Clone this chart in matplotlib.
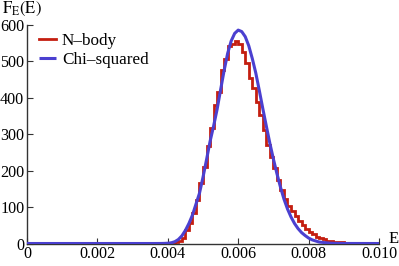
import matplotlib
matplotlib.use("Agg")
import matplotlib.pyplot as plt
import numpy as np

# Histogram (N-body), bin width 0.0001, left edge of first bin
bin_start = 0.0040
bin_width = 0.0001
nbody_density = [0.5, 1, 3, 6, 15, 37, 57, 85, 119, 165, 209, 268,
                 316, 380, 417, 476, 508, 542, 547, 557, 548, 527, 495,
                 454, 426, 389, 353, 312, 270, 238, 206, 174, 147, 122,
                 104, 90, 75, 62, 50, 40, 32, 25, 19, 15, 11, 8, 6, 5,
                 4, 3, 2, 2, 1, 1, 1, 0.5, 0.3, 0.2, 0.1, 0.1]

# Chi-squared curve
chi_E = [0.0, 0.0036, 0.0037, 0.0038, 0.0039, 0.0040, 0.0041, 0.0042, 0.0043,
         0.0044, 0.0045, 0.0046, 0.0047, 0.0048, 0.0049, 0.0050, 0.0051,
         0.0052, 0.0053, 0.0054, 0.0055, 0.0056, 0.0057, 0.0058, 0.0059,
         0.0060, 0.0061, 0.0062, 0.0063, 0.0064, 0.0065, 0.0066, 0.0067,
         0.0068, 0.0069, 0.0070, 0.0071, 0.0072, 0.0073, 0.0074, 0.0075,
         0.0076, 0.0077, 0.0078, 0.0079, 0.0080, 0.0081, 0.0082, 0.0083,
         0.0084, 0.0085, 0.0086, 0.0087, 0.0088, 0.0090, 0.0100]
chi_F = [0.0, 0.0, 0.05, 0.1, 0.3, 0.8, 2, 5, 11,
         21, 36, 55, 78, 108, 138, 182, 230,
         280, 322, 368, 422, 475, 522, 556, 577,
         586, 582, 568, 543, 508, 468, 420, 370,
         322, 275, 232, 192, 155, 122, 95, 73,
         55, 41, 30, 22, 15, 10, 7, 4,
         3, 2, 1, 0.6, 0.3, 0.1, 0.0]

x_ticks = [0, 0.002, 0.004, 0.006, 0.008, 0.010]
x_ticklabels = ["0", "0.002", "0.004", "0.006", "0.008", "0.010"]
y_ticks = [0, 100, 200, 300, 400, 500, 600]

plt.rcParams['font.family'] = ['Liberation Serif', 'DejaVu Serif']
plt.rcParams['mathtext.fontset'] = 'stix'

fig = plt.figure(figsize=(3.99, 2.66), dpi=100)
ax = fig.add_axes([27/399, 1-243.5/266, (379-27)/399, (243.5-25)/266])

edges = bin_start + bin_width*np.arange(len(nbody_density)+1)
red = '#c41e10'
blue = '#4b40d0'
ax.stairs(nbody_density, edges, color=red, lw=2.0, zorder=2, label='N–body')
ax.plot(chi_E, chi_F, color=blue, lw=2.2, zorder=3, label='Chi–squared',
        solid_capstyle='butt')

ax.set_xlim(0, 0.010)
ax.set_ylim(0, 600)
for s in ['top', 'right']:
    ax.spines[s].set_visible(False)
for s in ['left', 'bottom']:
    ax.spines[s].set_color('#333333')
    ax.spines[s].set_linewidth(1.0)
ax.set_xticks(x_ticks)
ax.set_xticklabels(x_ticklabels)
ax.set_yticks(y_ticks)
ax.tick_params(direction='in', length=4, width=0.8, color='#333333',
               labelsize=11.6, pad=2)
ax.patch.set_visible(False)

fig.text(2/399, 1-9/266, r'$\mathrm{F_E(E)}$', fontsize=12, va='center', ha='left')
fig.text(389/399, 1-239/266, 'E', fontsize=12, va='center', ha='left')

leg = ax.legend(loc='upper left', bbox_to_anchor=(0.012, 1.0), frameon=False,
                fontsize=12.3, handlelength=1.0, handletextpad=0.35,
                labelspacing=0.18, borderaxespad=0.0, borderpad=0.45)

fig.savefig('out.png', dpi=100)
